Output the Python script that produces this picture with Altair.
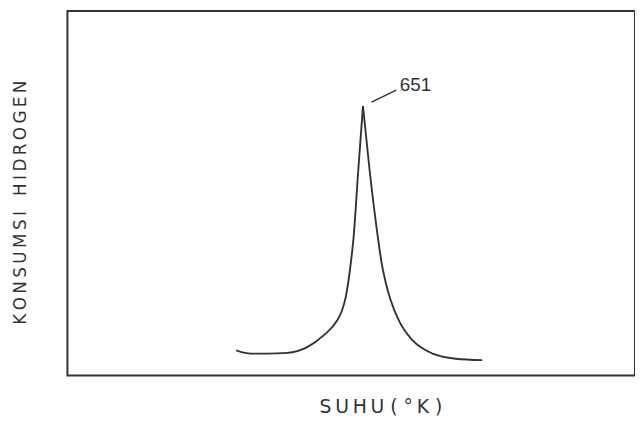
import altair as alt
import pandas as pd

# Temperature (K) and hydrogen consumption (arbitrary units)
suhu = [586.2, 593.8, 602.2, 612.4, 622.5, 630.9, 637.7, 640.2, 642.2, 643.7,
        645.0, 646.1, 648.6, 651.0, 654.4, 658.8, 660.4, 662.5, 665.0, 669.5,
        676.4, 686.6, 698.4, 711.9]
konsumsi = [6.9, 6.0, 6.0, 6.2, 7.8, 11.0, 15.0, 17.7, 21.5, 26.4,
            31.8, 37.2, 56.3, 73.9, 56.3, 37.2, 31.3, 25.8, 20.9, 14.9,
            9.6, 6.0, 4.6, 4.2]

peak_label = ["651"]
label_x = [677.8]
label_y = [79.6]
leader_x = [655.4]
leader_x2 = [668.0]
leader_y = [75.0]
leader_y2 = [78.3]

x_dom = [500, 790]
y_dom = [0, 100]

TS = "\u2009"  # thin space used to reproduce the wide lettering
x_title = TS.join("SUHU") + " ( °" + TS + "K )"
y_title = TS.join("KONSUMSI") + TS + "\u2002" + TS + TS.join("HIDROGEN")

# split the trace at the peak so the smooth interpolation keeps a sharp tip
ipk = konsumsi.index(max(konsumsi))
rows = []
for i, (t, v) in enumerate(zip(suhu, konsumsi)):
    if i <= ipk:
        rows.append({"suhu": t, "konsumsi": v, "seg": "naik", "o": i})
    if i >= ipk:
        rows.append({"suhu": t, "konsumsi": v, "seg": "turun", "o": i})
df = pd.DataFrame(rows)
lab = pd.DataFrame({"t": peak_label, "x": label_x, "y": label_y})
lead = pd.DataFrame({"x": leader_x, "x2": leader_x2, "y": leader_y, "y2": leader_y2})

xs = alt.Scale(domain=x_dom, nice=False, zero=False)
ys = alt.Scale(domain=y_dom, nice=False, zero=False)

title_font = "DejaVu Sans"
ink = "#333333"

line = alt.Chart(df).mark_line(color=ink, strokeWidth=1.9, interpolate="monotone").encode(
    x=alt.X("suhu:Q", scale=xs,
            axis=alt.Axis(title=x_title, domain=False, ticks=False, labels=False, grid=False,
                          titleFont=title_font, titleFontSize=19, titleFontWeight="normal",
                          titleColor=ink, titleX=316, titleY=31, titleAlign="center",
                          titleBaseline="middle")),
    y=alt.Y("konsumsi:Q", scale=ys,
            axis=alt.Axis(title=y_title, domain=False, ticks=False, labels=False, grid=False,
                          titleFont=title_font, titleFontSize=17, titleFontWeight="normal",
                          titleColor=ink, titleX=-47, titleY=193, titleAlign="center",
                          titleBaseline="middle", titleAngle=270)),
    detail="seg:N",
    order="o:Q",
)

leader = alt.Chart(lead).mark_rule(color=ink, strokeWidth=1.5).encode(
    x=alt.X("x:Q", scale=xs), x2="x2:Q",
    y=alt.Y("y:Q", scale=ys), y2="y2:Q",
)

text = alt.Chart(lab).mark_text(color=ink, fontSize=19, font="Liberation Sans Narrow, Liberation Sans",
                                align="center", baseline="middle").encode(
    x=alt.X("x:Q", scale=xs), y=alt.Y("y:Q", scale=ys), text="t:N"
)

chart = (line + leader + text).properties(
    width=573, height=368,
    background="white",
    autosize=alt.AutoSizeParams(type="none"),
    padding={"left": 60, "top": 1, "right": 0, "bottom": 48},
).configure_view(stroke=ink, strokeWidth=2, fill="white")

chart.save("out.html", embed_options={"renderer": "svg", "actions": False})
